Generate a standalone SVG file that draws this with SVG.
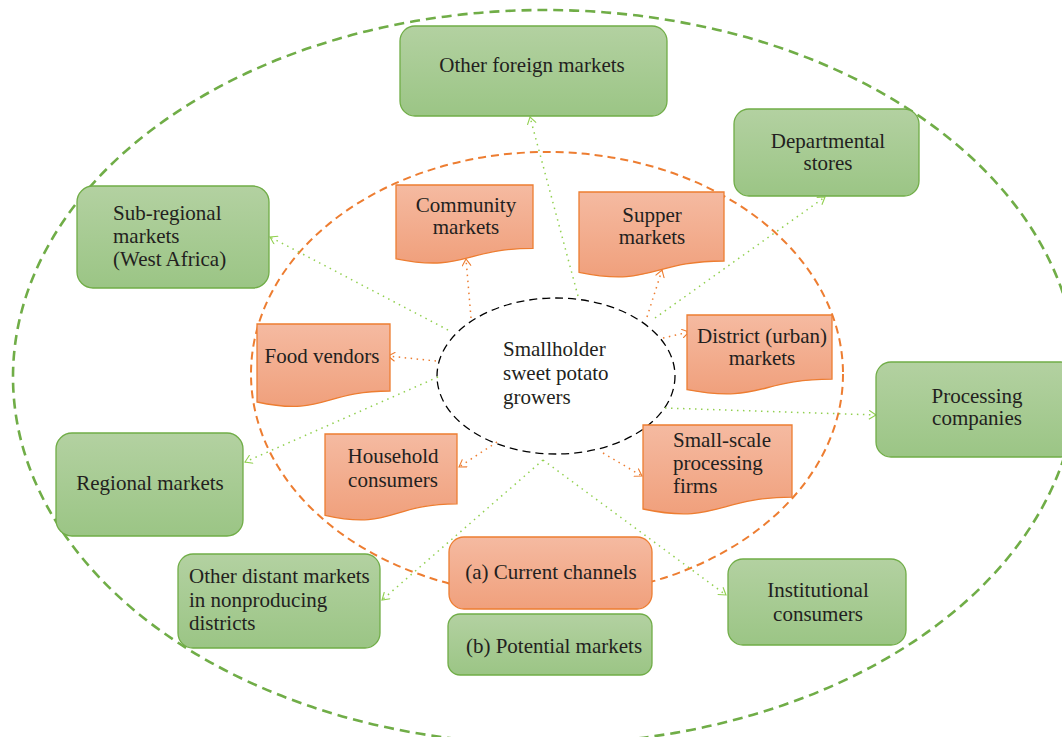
<svg xmlns="http://www.w3.org/2000/svg" width="1062" height="737" viewBox="0 0 1062 737">
<defs>
<linearGradient id="gG" x1="0" y1="0" x2="0" y2="1"><stop offset="0" stop-color="#b3d1a1"/><stop offset="1" stop-color="#9bc585"/></linearGradient>
<linearGradient id="gO" x1="0" y1="0" x2="0" y2="1"><stop offset="0" stop-color="#f5baa1"/><stop offset="1" stop-color="#f0a07c"/></linearGradient>
<marker id="ao" viewBox="0 0 9 10" markerWidth="9" markerHeight="10" refX="7.5" refY="5" orient="auto" markerUnits="userSpaceOnUse"><path d="M0.5,0.5 L7.5,5 L0.5,9.5" fill="none" stroke="#ed7d31" stroke-width="1.1"/></marker>
<marker id="ag" viewBox="0 0 9 10" markerWidth="9" markerHeight="10" refX="7.5" refY="5" orient="auto" markerUnits="userSpaceOnUse"><path d="M0.5,0.5 L7.5,5 L0.5,9.5" fill="none" stroke="#92d050" stroke-width="1.1"/></marker>
</defs>
<style>
text{font-family:"Liberation Serif","Times New Roman",serif;font-size:21px;fill:#231f20}
.c{text-anchor:middle}
.gb{fill:url(#gG);stroke:#70ad47;stroke-width:1.3}
.ob{fill:url(#gO);stroke:#ed7d31;stroke-width:1.3}
.lo{fill:none;stroke:#ed7d31;stroke-width:1.5;stroke-dasharray:1.5 4.5;marker-end:url(#ao)}
.lg{fill:none;stroke:#92d050;stroke-width:1.5;stroke-dasharray:1.5 4.5;marker-end:url(#ag)}
</style>
<rect width="1062" height="737" fill="#ffffff"/>
<g id="rings">
<ellipse cx="545" cy="377" rx="532" ry="367" fill="none" stroke="#70ad47" stroke-width="2.6" stroke-dasharray="10 6"/>
<ellipse cx="547" cy="374" rx="296" ry="222" fill="none" stroke="#ed7d31" stroke-width="2" stroke-dasharray="8 5"/>
</g>
<g id="center">
<ellipse cx="556" cy="376" rx="119" ry="78" fill="none" stroke="#000000" stroke-width="1.3" stroke-dasharray="8 5"/>
<text x="503" y="356">Smallholder</text>
<text x="503" y="380">sweet potato</text>
<text x="503" y="404">growers</text>
</g>
<g id="connectors">
<line class="lo" x1="471" y1="318" x2="466" y2="259"/>
<line class="lo" x1="647" y1="317" x2="662" y2="270"/>
<line class="lo" x1="663" y1="338" x2="689" y2="332"/>
<line class="lo" x1="436" y1="361" x2="388" y2="356"/>
<line class="lo" x1="497" y1="442" x2="459" y2="467"/>
<line class="lo" x1="603" y1="453" x2="642" y2="476"/>
<line class="lg" x1="578" y1="296" x2="530" y2="117"/>
<line class="lg" x1="655" y1="318" x2="825" y2="197"/>
<line class="lg" x1="448" y1="330" x2="270" y2="237"/>
<line class="lg" x1="438" y1="377" x2="245" y2="462"/>
<line class="lg" x1="543" y1="460" x2="382" y2="600"/>
<line class="lg" x1="543" y1="460" x2="726" y2="595"/>
<line class="lg" x1="665" y1="408" x2="876" y2="415"/>
</g>
<g id="community-markets">
<path class="ob" d="M396,185 H533 V248.4 C464.5,248.4 464.5,272.5 396,258.8 Z"/>
<text class="c" x="466" y="212">Community</text>
<text class="c" x="466" y="234">markets</text>
</g>
<g id="supper-markets">
<path class="ob" d="M579,192 H724 V261 C651.5,261 651.5,287.2 579,272.3 Z"/>
<text class="c" x="652" y="222">Supper</text>
<text class="c" x="652" y="244">markets</text>
</g>
<g id="district-markets">
<path class="ob" d="M687,315 H832 V379.2 C759.5,379.2 759.5,403.6 687,389.7 Z"/>
<text class="c" x="762" y="343">District (urban)</text>
<text class="c" x="762" y="365">markets</text>
</g>
<g id="food-vendors">
<path class="ob" d="M257,324 H390 V391 C323.5,391 323.5,416.5 257,402 Z"/>
<text class="c" x="322" y="363">Food vendors</text>
</g>
<g id="household-consumers">
<path class="ob" d="M325,434 H457 V503.8 C391,503.8 391,530.4 325,515.3 Z"/>
<text class="c" x="393" y="463">Household</text>
<text class="c" x="393" y="487">consumers</text>
</g>
<g id="small-scale-firms">
<path class="ob" d="M643,425 H792 V497.2 C717.5,497.2 717.5,524.7 643,509 Z"/>
<text x="673" y="447">Small-scale</text>
<text x="673" y="470">processing</text>
<text x="673" y="493">firms</text>
</g>
<g id="current-channels">
<rect class="ob" x="449" y="537" width="203" height="72" rx="15"/>
<text class="c" x="551" y="579">(a) Current channels</text>
</g>
<g id="potential-markets">
<rect class="gb" x="448" y="614" width="204" height="61" rx="12"/>
<text class="c" x="554" y="653">(b) Potential markets</text>
</g>
<g id="other-foreign-markets">
<rect class="gb" x="400" y="26" width="267" height="90" rx="15"/>
<text class="c" x="532" y="72">Other foreign markets</text>
</g>
<g id="departmental-stores">
<rect class="gb" x="734" y="109" width="185" height="87" rx="15"/>
<text class="c" x="828" y="148">Departmental</text>
<text class="c" x="828" y="170">stores</text>
</g>
<g id="sub-regional-markets">
<rect class="gb" x="77" y="186" width="192" height="102" rx="16"/>
<text x="113" y="220">Sub-regional</text>
<text x="113" y="243">markets</text>
<text x="113" y="266">(West Africa)</text>
</g>
<g id="regional-markets">
<rect class="gb" x="56" y="433" width="187" height="103" rx="16"/>
<text class="c" x="150" y="490">Regional markets</text>
</g>
<g id="other-distant-markets">
<rect class="gb" x="178" y="554" width="202" height="94" rx="15"/>
<text x="189" y="583">Other distant markets</text>
<text x="189" y="607">in nonproducing</text>
<text x="189" y="630">districts</text>
</g>
<g id="institutional-consumers">
<rect class="gb" x="728" y="559" width="178" height="86" rx="15"/>
<text class="c" x="818" y="597">Institutional</text>
<text class="c" x="818" y="621">consumers</text>
</g>
<g id="processing-companies">
<rect class="gb" x="876" y="362" width="200" height="95" rx="15"/>
<text class="c" x="977" y="403">Processing</text>
<text class="c" x="977" y="425">companies</text>
</g>
</svg>
